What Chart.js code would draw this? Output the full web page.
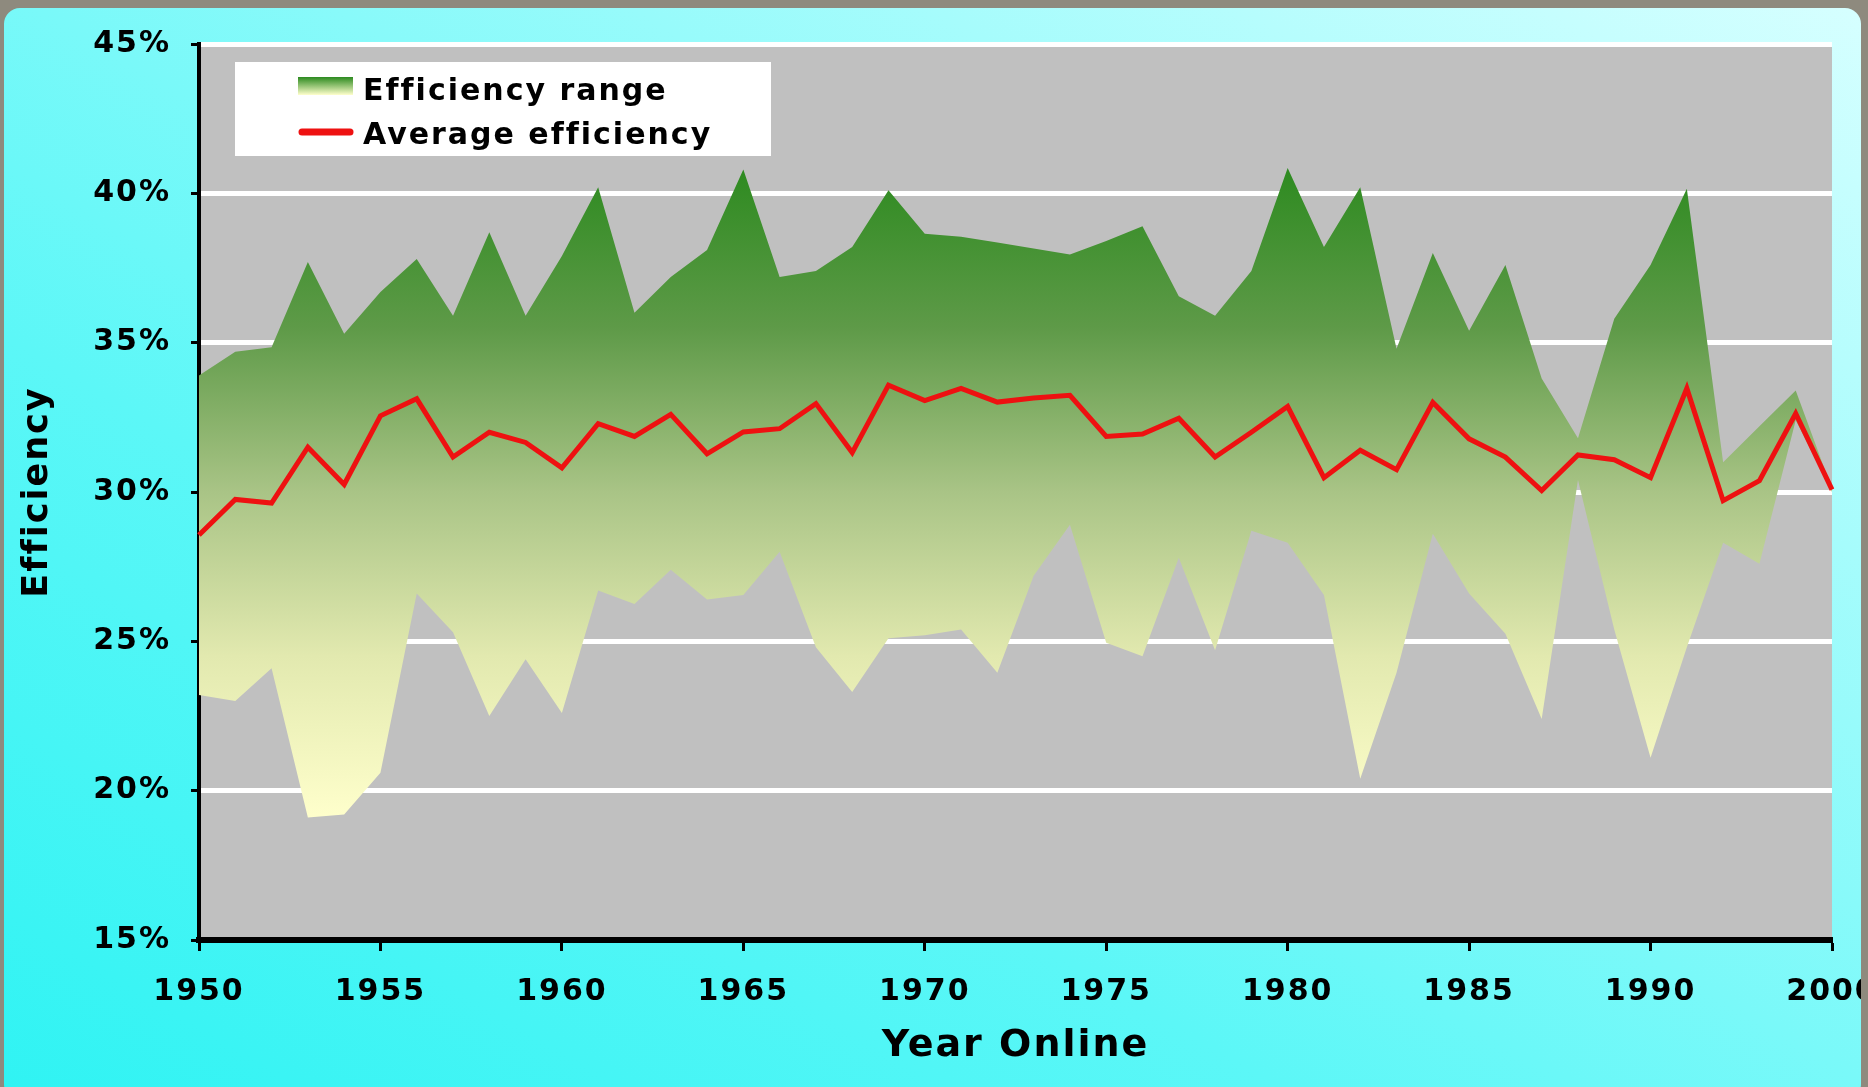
<!DOCTYPE html>
<html>
<head>
<meta charset="utf-8">
<title>Efficiency by Year Online</title>
<script src="https://cdn.jsdelivr.net/npm/chart.js@4.4.1/dist/chart.umd.min.js"></script>
<style>
  html, body { margin: 0; padding: 0; }
  body { width: 1868px; height: 1087px; background: #8e8a7e; overflow: hidden; position: relative; }
  #frame {
    position: absolute; left: 4px; top: 8px; width: 1857px; height: 1092px;
    border-radius: 16px; overflow: hidden;
    background: linear-gradient(to top right, #2ff3f3 0%, #5cf7f7 35%, #a6fcfc 75%, #d6ffff 100%);
  }
  #chart_out { position: absolute; left: -4px; top: -8px; }
</style>
</head>
<body>
<div id="frame">
  <canvas id="chart_out" width="1868" height="1087"></canvas>
</div>
<script>
// DATA
var years = [1950, 1951, 1952, 1953, 1954, 1955, 1956, 1957, 1958, 1959,
  1960, 1961, 1962, 1963, 1964, 1965, 1966, 1967, 1968, 1969,
  1970, 1971, 1972, 1973, 1974, 1975, 1976, 1977, 1978, 1979,
  1980, 1981, 1982, 1983, 1984, 1985, 1986, 1987, 1988, 1989,
  1990, 1992, 1994, 1996, 1998, 2000];
var rangeHigh = [33.9, 34.7, 34.85, 37.7, 35.3, 36.7, 37.8, 35.9, 38.7, 35.9,
  37.9, 40.2, 36.0, 37.2, 38.1, 40.8, 37.2, 37.4, 38.2, 40.1,
  38.65, 38.55, 38.35, 38.15, 37.95, 38.4, 38.9, 36.55, 35.9, 37.4,
  40.85, 38.2, 40.2, 34.8, 38.0, 35.4, 37.6, 33.8, 31.8, 35.8,
  37.6, 40.15, 31.0, 32.2, 33.4, 30.1];
var rangeLow = [23.2, 23.0, 24.1, 19.1, 19.2, 20.6, 26.6, 25.3, 22.5, 24.4,
  22.6, 26.7, 26.25, 27.4, 26.4, 26.55, 28.0, 24.8, 23.3, 25.1,
  25.2, 25.4, 23.95, 27.2, 28.9, 24.95, 24.5, 27.8, 24.7, 28.7,
  28.3, 26.55, 20.4, 23.95, 28.6, 26.6, 25.25, 22.4, 30.4, 25.4,
  21.1, 24.8, 28.3, 27.6, 32.4, 30.0];
var avgEff = [28.56, 29.75, 29.63, 31.5, 30.25, 32.55, 33.12, 31.17, 32.0, 31.66,
  30.81, 32.29, 31.86, 32.6, 31.28, 32.01, 32.12, 32.96, 31.32, 33.58,
  33.06, 33.47, 33.01, 33.15, 33.24, 31.86, 31.94, 32.47, 31.17, 32.0,
  32.86, 30.48, 31.4, 30.75, 33.0, 31.78, 31.17, 30.05, 31.24, 31.08,
  30.48, 33.47, 29.71, 30.38, 32.63, 30.08];
var legendLabels = ['Efficiency range', 'Average efficiency'];
var yTicks = { min: 15, max: 45, step: 5 };

var FONT = '"DejaVu Sans", Verdana, sans-serif';
Chart.defaults.font.family = FONT;
Chart.defaults.color = '#000';

// green to pale yellow, top of the range down to the bottom
function rangeFill(context) {
  var chart = context.chart;
  if (!chart.chartArea) return '#8fb070';
  var y = chart.scales.y;
  var g = chart.ctx.createLinearGradient(0, y.getPixelForValue(41), 0, y.getPixelForValue(19));
  g.addColorStop(0, '#2c8a1f');
  g.addColorStop(0.25, '#5e9a48');
  g.addColorStop(0.5, '#a9c486');
  g.addColorStop(0.75, '#e2e9af');
  g.addColorStop(1, '#ffffcc');
  return g;
}

// the original font is wide (Verdana-ish), so space the letters a bit
var wideText = {
  id: 'wideText',
  beforeUpdate: function (chart) { chart.ctx.letterSpacing = '2px'; },
  beforeDraw: function (chart) { chart.ctx.letterSpacing = '2px'; }
};

// gray plot background
var plotBg = {
  id: 'plotBg',
  beforeDraw: function (chart) {
    var a = chart.chartArea;
    chart.ctx.save();
    chart.ctx.fillStyle = '#c0c0c0';
    chart.ctx.fillRect(a.left, a.top, a.right - a.left, a.bottom - a.top);
    chart.ctx.restore();
  }
};

// legend box sits inside the plot, top left
var boxLegend = {
  id: 'boxLegend',
  afterDatasetsDraw: function (chart) {
    var ctx = chart.ctx, a = chart.chartArea;
    var x = a.left + 36, y = a.top + 18;
    ctx.save();
    ctx.fillStyle = '#fff';
    ctx.fillRect(x, y, 536, 94);
    var g = ctx.createLinearGradient(0, y + 15, 0, y + 33);
    g.addColorStop(0, '#2c8a1f');
    g.addColorStop(1, '#ffffcc');
    ctx.fillStyle = g;
    ctx.fillRect(x + 63, y + 15, 55, 18);
    ctx.strokeStyle = '#ee1111';
    ctx.lineWidth = 7;
    ctx.lineCap = 'round';
    ctx.beginPath();
    ctx.moveTo(x + 67, y + 70);
    ctx.lineTo(x + 115, y + 70);
    ctx.stroke();
    ctx.fillStyle = '#000';
    ctx.font = 'bold 30px ' + FONT;
    ctx.letterSpacing = '2px';
    ctx.textBaseline = 'middle';
    ctx.fillText(legendLabels[0], x + 128, y + 30);
    ctx.fillText(legendLabels[1], x + 128, y + 74);
    ctx.restore();
  }
};

var ctx = document.getElementById('chart_out').getContext('2d');
var effChart = new Chart(ctx, {
  type: 'line',
  data: {
    labels: years,
    datasets: [
      {
        label: legendLabels[1],
        data: avgEff,
        borderColor: '#ee1111',
        borderWidth: 5,
        pointRadius: 0,
        fill: false,
        tension: 0,
        order: 0
      },
      {
        label: legendLabels[0],
        data: rangeHigh,
        borderWidth: 0,
        borderColor: 'transparent',
        backgroundColor: rangeFill,
        pointRadius: 0,
        fill: '+1',
        tension: 0,
        order: 1
      },
      {
        label: 'low',
        data: rangeLow,
        borderWidth: 0,
        borderColor: 'transparent',
        pointRadius: 0,
        fill: false,
        tension: 0,
        order: 2
      }
    ]
  },
  options: {
    responsive: false,
    animation: false,
    layout: { padding: { top: 44, right: 36, bottom: 0, left: 0 } },
    plugins: {
      legend: { display: false },
      tooltip: { enabled: false }
    },
    scales: {
      x: {
        type: 'category',
        offset: false,
        afterFit: function (s) { s.height = 147; s.paddingRight = 0; s.paddingLeft = 0; },
        border: { color: '#000', width: 6 },
        grid: {
          drawOnChartArea: false,
          drawTicks: true,
          tickLength: 11,
          tickWidth: 3,
          color: 'transparent',
          tickColor: function (c) { return c.index % 5 === 0 ? '#000' : 'transparent'; }
        },
        ticks: {
          autoSkip: false,
          maxRotation: 0,
          padding: 23,
          font: { size: 30, weight: 'bold' },
          callback: function (v, i) { return i % 5 === 0 ? String(years[i]) : ''; }
        },
        title: {
          display: true,
          text: 'Year Online',
          font: { size: 38, weight: 'bold' },
          padding: { top: 0, bottom: 18 }
        }
      },
      y: {
        min: yTicks.min,
        max: yTicks.max,
        afterFit: function (s) { s.width = 199; },
        border: { color: '#000', width: 4 },
        grid: {
          color: function (c) { return c.tick && c.tick.value === yTicks.min ? 'transparent' : '#ffffff'; },
          lineWidth: 5,
          drawTicks: true,
          tickLength: 8,
          tickWidth: 3,
          tickColor: '#000'
        },
        ticks: {
          stepSize: yTicks.step,
          padding: 20,
          font: { size: 30, weight: 'bold' },
          callback: function (v) { return v + '%'; }
        },
        title: {
          display: true,
          text: 'Efficiency',
          font: { size: 35, weight: 'bold' },
          padding: { top: 17, bottom: 0 }
        }
      }
    }
  },
  plugins: [wideText, plotBg, boxLegend]
});
</script>
</body>
</html>
